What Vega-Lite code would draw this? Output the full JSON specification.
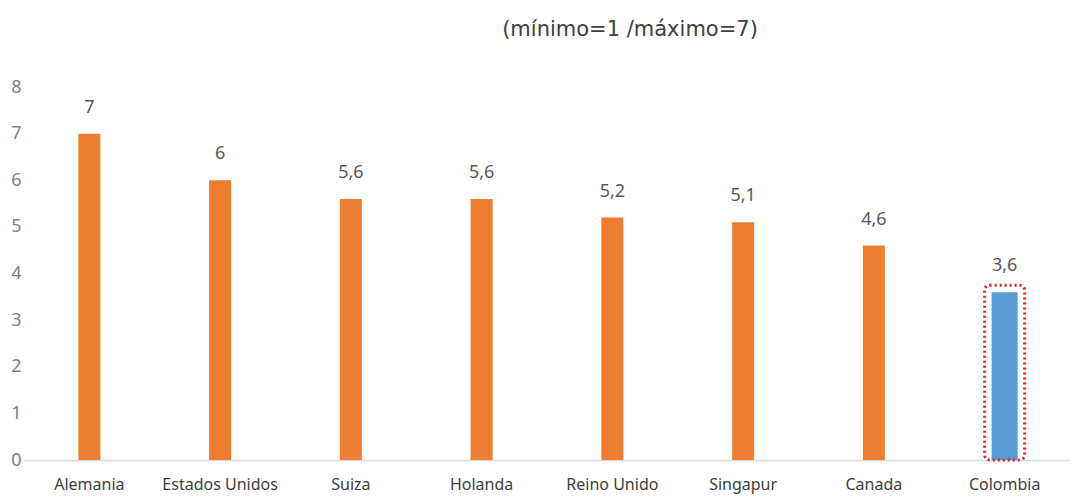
{
  "$schema": "https://vega.github.io/schema/vega-lite/v6.json",
  "autosize": "none",
  "width": 1046,
  "height": 373,
  "padding": {"left": 24, "top": 87, "right": 13, "bottom": 40},
  "background": "white",
  "title": {
    "text": "(mínimo=1 /máximo=7)",
    "frame": "group",
    "anchor": "middle",
    "dx": 83,
    "offset": 38,
    "fontSize": 21,
    "font": "DejaVu Sans",
    "fontWeight": "normal",
    "color": "#404040"
  },
  "data": {
    "values": [
      {"pais": "Alemania", "valor": 7.0},
      {"pais": "Estados Unidos", "valor": 6.0},
      {"pais": "Suiza", "valor": 5.6},
      {"pais": "Holanda", "valor": 5.6},
      {"pais": "Reino Unido", "valor": 5.2},
      {"pais": "Singapur", "valor": 5.1},
      {"pais": "Canada", "valor": 4.6},
      {"pais": "Colombia", "valor": 3.6}
    ]
  },
  "encoding": {
    "x": {
      "field": "pais",
      "type": "nominal",
      "sort": null,
      "scale": {"paddingInner": 0, "paddingOuter": 0},
      "axis": {
        "title": null,
        "labelAngle": 0,
        "ticks": false,
        "domainColor": "#d9d9d9",
        "domainWidth": 1.5,
        "labelPadding": 16,
        "labelFontSize": 16,
        "labelFont": "Noto Sans",
        "labelColor": "#404040"
      }
    },
    "y": {
      "field": "valor",
      "type": "quantitative",
      "stack": null,
      "scale": {"domain": [0, 8]},
      "axis": {
        "title": null,
        "domain": false,
        "ticks": false,
        "grid": false,
        "tickCount": 8,
        "format": "d",
        "labelPadding": 3,
        "labelFontSize": 18,
        "labelFont": "Noto Sans",
        "labelColor": "#808080"
      }
    }
  },
  "layer": [
    {
      "transform": [{"filter": "datum.pais !== 'Colombia'"}],
      "mark": {"type": "bar", "width": 22, "color": "#ED7D31"}
    },
    {
      "transform": [{"filter": "datum.pais === 'Colombia'"}],
      "mark": {"type": "bar", "width": 26, "color": "#5B9BD5"}
    },
    {
      "transform": [{"filter": "datum.pais === 'Colombia'"}],
      "mark": {
        "type": "rect",
        "width": 40,
        "fill": null,
        "fillOpacity": 0,
        "stroke": "#E02020",
        "strokeWidth": 3,
        "strokeDash": [2, 3],
        "cornerRadius": 5,
        "yOffset": -7,
        "y2Offset": 0
      },
      "encoding": {
        "y2": {"datum": 0}
      }
    },
    {
      "mark": {
        "type": "text",
        "baseline": "bottom",
        "dy": -17,
        "fontSize": 18,
        "font": "Noto Sans",
        "color": "#595959"
      },
      "encoding": {
        "text": {"field": "valor", "type": "quantitative", "format": ".1~f"}
      }
    }
  ],
  "config": {
    "view": {"stroke": null},
    "locale": {
      "number": {"decimal": ",", "thousands": ".", "grouping": [3], "currency": ["", " €"]}
    }
  }
}
